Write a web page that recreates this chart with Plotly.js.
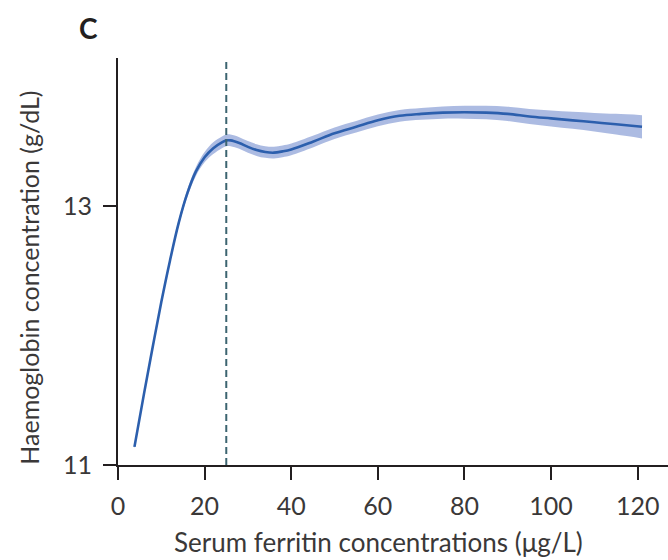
<!DOCTYPE html>
<html>
<head>
<meta charset="utf-8">
<script src="https://cdn.plot.ly/plotly-3.0.1.min.js"></script>
<style>
  html, body { margin: 0; padding: 0; background: #ffffff; }
  #chart { width: 668px; height: 560px; }
</style>
</head>
<body>
<div id="chart"></div>
<script>
// Serum ferritin (µg/L) against modelled haemoglobin (g/dL) with its confidence band
const ferritin = [3.8, 6, 8, 10, 12, 14, 16, 18, 20, 22, 24, 25, 26, 28, 30, 32, 34, 36, 38, 40,
                  45, 50, 55, 60, 65, 70, 75, 80, 85, 90, 95, 100, 105, 110, 115, 121];
const haemoglobin = [11.14, 11.55, 11.91, 12.26, 12.58, 12.87, 13.10, 13.27, 13.38, 13.45, 13.495, 13.51,
                     13.51, 13.49, 13.46, 13.435, 13.42, 13.415, 13.425, 13.44,
                     13.50, 13.565, 13.615, 13.665, 13.70, 13.715, 13.725, 13.728, 13.725, 13.715,
                     13.695, 13.68, 13.665, 13.65, 13.635, 13.615];
const lowerCI = [11.125, 11.535, 11.892, 12.24, 12.558, 12.845, 13.07, 13.235, 13.34, 13.405, 13.45, 13.465,
                 13.465, 13.445, 13.415, 13.39, 13.375, 13.37, 13.38, 13.395,
                 13.455, 13.52, 13.57, 13.62, 13.655, 13.67, 13.678, 13.678, 13.673, 13.66,
                 13.637, 13.618, 13.599, 13.578, 13.555, 13.525];
const upperCI = [11.155, 11.565, 11.928, 12.28, 12.602, 12.895, 13.13, 13.305, 13.42, 13.495, 13.54, 13.555,
                 13.555, 13.535, 13.505, 13.48, 13.465, 13.46, 13.47, 13.485,
                 13.545, 13.61, 13.66, 13.71, 13.745, 13.76, 13.772, 13.778, 13.777, 13.77,
                 13.753, 13.742, 13.731, 13.722, 13.715, 13.705];
const xTicks = [0, 20, 40, 60, 80, 100, 120];
const yTicks = [11, 13];
const threshold = 25;

const fontFamily = 'Lato, "Open Sans", sans-serif';
const inkColour = '#231f20';
const tickColour = '#3a3838';

const traces = [
  {
    x: ferritin, y: lowerCI, type: 'scatter', mode: 'lines',
    line: { width: 0, shape: 'spline', smoothing: 1 },
    hoverinfo: 'skip', showlegend: false
  },
  {
    x: ferritin, y: upperCI, type: 'scatter', mode: 'lines',
    fill: 'tonexty', fillcolor: 'rgba(70, 104, 190, 0.45)',
    line: { width: 0, shape: 'spline', smoothing: 1 },
    hoverinfo: 'skip', showlegend: false
  },
  {
    x: ferritin, y: haemoglobin, type: 'scatter', mode: 'lines',
    line: { color: '#2c5fad', width: 2.6, shape: 'spline', smoothing: 1 },
    showlegend: false
  }
];

const layout = {
  width: 668, height: 560,
  margin: { l: 118, r: 0, t: 58, b: 94.5 },
  paper_bgcolor: '#ffffff', plot_bgcolor: '#ffffff',
  font: { family: fontFamily, color: tickColour },
  xaxis: {
    range: [0, 127], tickvals: xTicks, ticktext: xTicks.map(String),
    showgrid: false, zeroline: false,
    showline: true, linecolor: inkColour, linewidth: 2,
    ticks: 'outside', ticklen: 13, tickwidth: 2, tickcolor: inkColour,
    ticklabelstandoff: 5,
    tickfont: { family: fontFamily, size: 25, color: tickColour }
  },
  yaxis: {
    range: [11, 14.147], tickvals: yTicks, ticktext: yTicks.map(String),
    showgrid: false, zeroline: false,
    showline: true, linecolor: inkColour, linewidth: 2,
    ticks: 'outside', ticklen: 13, tickwidth: 2, tickcolor: inkColour,
    ticklabelstandoff: 6,
    tickfont: { family: fontFamily, size: 25, color: tickColour }
  },
  shapes: [
    {
      type: 'line', xref: 'x', yref: 'paper',
      x0: threshold, x1: threshold, y0: 0, y1: 1,
      line: { color: '#3c6470', width: 2, dash: '7px,4px' }
    }
  ],
  annotations: [
    {
      text: 'C', xref: 'paper', yref: 'paper', x: -0.054, y: 1.074,
      xanchor: 'center', yanchor: 'middle', showarrow: false,
      font: { family: fontFamily, size: 28, color: inkColour, weight: 700 }
    },
    {
      text: 'Serum ferritin concentrations (μg/L)', xref: 'paper', yref: 'paper',
      x: 0.473, y: -0.19, xanchor: 'center', yanchor: 'middle', showarrow: false,
      font: { family: fontFamily, size: 26, color: tickColour }
    },
    {
      text: 'Haemoglobin concentration (g/dL)', xref: 'paper', yref: 'paper',
      x: -0.162, y: 0.46, xanchor: 'center', yanchor: 'middle', showarrow: false,
      textangle: -90,
      font: { family: fontFamily, size: 25, color: tickColour }
    }
  ]
};

Plotly.newPlot('chart', traces, layout, { displayModeBar: false, staticPlot: true });
</script>
</body>
</html>
